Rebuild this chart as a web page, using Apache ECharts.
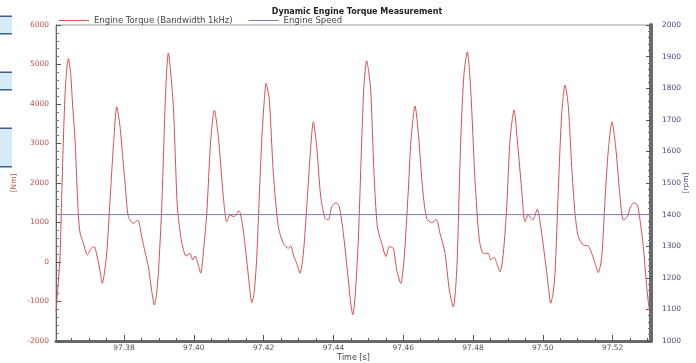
<!DOCTYPE html>
<html>
<head>
<meta charset="utf-8">
<script src="https://cdn.jsdelivr.net/npm/echarts@6/dist/echarts.min.js"></script>
<style>
  html, body { margin: 0; padding: 0; background: #fff; }
  #chart { width: 696px; height: 363px; }
</style>
</head>
<body>
<div id="chart"></div>
<script>
// time stamps [s]
const timeSec = [
  97.36052, 97.36109, 97.36166, 97.36209, 97.36261, 97.36324, 97.36404, 97.36467, 97.36524, 97.36596,
  97.36653, 97.36691, 97.36739, 97.36834, 97.36948, 97.37046, 97.37149, 97.37218, 97.37298, 97.37378,
  97.37441, 97.37504, 97.37599, 97.37699, 97.37791, 97.37885, 97.37957, 97.38029, 97.38123, 97.38266,
  97.38393, 97.38507, 97.38602, 97.38696, 97.38788, 97.38868, 97.38926, 97.38983, 97.39080, 97.39175,
  97.39226, 97.39269, 97.39332, 97.39413, 97.39476, 97.39527, 97.39625, 97.39691, 97.39777, 97.39891,
  97.39968, 97.40034, 97.40120, 97.40198, 97.40278, 97.40370, 97.40484, 97.40587, 97.40702, 97.40845,
  97.40943, 97.41037, 97.41152, 97.41295, 97.41401, 97.41496, 97.41582, 97.41659, 97.41725, 97.41802,
  97.41868, 97.41946, 97.42011, 97.42069, 97.42163, 97.42278, 97.42421, 97.42564, 97.42708, 97.42776,
  97.42851, 97.42948, 97.43043, 97.43138, 97.43235, 97.43330, 97.43424, 97.43521, 97.43636, 97.43759,
  97.43854, 97.43951, 97.44074, 97.44169, 97.44284, 97.44427, 97.44490, 97.44553, 97.44619, 97.44713,
  97.44811, 97.44877, 97.44954, 97.45006, 97.45069, 97.45163, 97.45258, 97.45384, 97.45507, 97.45602,
  97.45716, 97.45814, 97.45928, 97.46023, 97.46146, 97.46223, 97.46338, 97.46433, 97.46559, 97.46673,
  97.46817, 97.46940, 97.47054, 97.47198, 97.47321, 97.47436, 97.47499, 97.47550, 97.47648, 97.47742,
  97.47837, 97.47934, 97.48057, 97.48181, 97.48295, 97.48438, 97.48507, 97.48602, 97.48679, 97.48774,
  97.48868, 97.48966, 97.49060, 97.49175, 97.49269, 97.49395, 97.49490, 97.49585, 97.49711, 97.49842,
  97.49940, 97.50092, 97.50163, 97.50226, 97.50292, 97.50350, 97.50444, 97.50542, 97.50636, 97.50731,
  97.50828, 97.50923, 97.51017, 97.51160, 97.51304, 97.51401, 97.51496, 97.51590, 97.51688, 97.51782,
  97.51877, 97.51983, 97.52097, 97.52212, 97.52307, 97.52421, 97.52519, 97.52613, 97.52708, 97.52785,
  97.52880, 97.52977, 97.53043, 97.53100
];

// engine torque [Nm]
const torqueNm = [
  -1250, -600, 150, 1500, 3087, 4500, 5150, 4800, 4000, 3087,
  1900, 1190, 734, 480, 177, 329, 387, 177, -150, -540,
  -250, 220, 1570, 3000, 3930, 3423, 2700, 2000, 1146, 979,
  1063, 640, 250, -119, -700, -1088, -850, -286, 1399, 3930,
  4900, 5295, 4850, 3930, 2500, 1399, 640, 350, 152, 220,
  51, 152, -50, -286, 300, 1232, 3087, 3846, 3170, 1652,
  1020, 1190, 1146, 1298, 893, 200, -500, -1030, -800, 100,
  1500, 3087, 4000, 4521, 4099, 2244, 893, 473, 346, 405,
  177, -34, -286, 220, 1399, 2664, 3550, 2917, 1652, 1105,
  1063, 1399, 1500, 1399, 726, -455, -1000, -1340, -900, 557,
  3087, 4500, 5093, 4850, 4352, 2244, 893, 473, 135, 388,
  346, -202, -540, 51, 1822, 3087, 3947, 3256, 1822, 1105,
  994, 1080, 726, 220, -708, -1140, -700, 135, 3087, 4774,
  5321, 4352, 2075, 557, 220, 220, 51, 118, -34, -245,
  220, 1399, 3087, 3846, 3087, 1822, 1020, 1190, 1063, 1333,
  893, -119, -650, -1045, -800, -286, 1822, 3762, 4478, 3930,
  2411, 1232, 640, 430, 405, 220, -34, -270, 135, 1569,
  2834, 3550, 2834, 1652, 1063, 1146, 1399, 1500, 1442, 1063,
  388, -625, -1150, -1350
];

// engine speed [rpm]
const speedTime = [97.3605, 97.531];
const speedRpm = [1400, 1400];

// axis ticks
const timeMajor = [97.38, 97.40, 97.42, 97.44, 97.46, 97.48, 97.50, 97.52];
const timeMinor = [
  97.365, 97.37, 97.375, 97.385, 97.39, 97.395, 97.405, 97.41, 97.415,
  97.425, 97.43, 97.435, 97.445, 97.45, 97.455, 97.465, 97.47, 97.475,
  97.485, 97.49, 97.495, 97.505, 97.51, 97.515, 97.525, 97.53
];

const FONT = 'DejaVu Sans';
const RED = '#d65050';
const BLUE = '#7a7ab4';
const chart = echarts.init(document.getElementById('chart'));

chart.setOption({
  animation: false,
  textStyle: { fontFamily: FONT },
  title: {
    text: 'Dynamic Engine Torque Measurement',
    left: 352, top: 3, textAlign: 'center',
    textStyle: { fontSize: 8, fontWeight: 'bold', color: '#222', fontFamily: FONT }
  },
  legend: {
    left: 54, top: 11, itemWidth: 30, itemHeight: 1, itemGap: 16,
    icon: 'rect',
    textStyle: { fontSize: 8.5, color: '#444', fontFamily: FONT },
    data: ['Engine Torque (Bandwidth 1kHz)', 'Engine Speed']
  },
  grid: {
    left: 56, right: 45, top: 25, bottom: 22,
    outerBoundsMode: 'none', containLabel: false,
    show: true, borderColor: '#9a9a9a', borderWidth: 1
  },
  graphic: [
    { type: 'rect', shape: { x: 0, y: 16, width: 12, height: 18 }, style: { fill: '#d8eaf6' } },
    { type: 'rect', shape: { x: 0, y: 15.5, width: 12, height: 1.5 }, style: { fill: '#3d5f8c' } },
    { type: 'rect', shape: { x: 0, y: 33, width: 12, height: 1.5 }, style: { fill: '#3d5f8c' } },
    { type: 'rect', shape: { x: 0, y: 72, width: 12, height: 18 }, style: { fill: '#d8eaf6' } },
    { type: 'rect', shape: { x: 0, y: 71.5, width: 12, height: 1.5 }, style: { fill: '#3d5f8c' } },
    { type: 'rect', shape: { x: 0, y: 89, width: 12, height: 1.5 }, style: { fill: '#3d5f8c' } },
    { type: 'rect', shape: { x: 0, y: 128, width: 12, height: 39 }, style: { fill: '#d8eaf6' } },
    { type: 'rect', shape: { x: 0, y: 127.5, width: 12, height: 1.5 }, style: { fill: '#3d5f8c' } },
    { type: 'rect', shape: { x: 0, y: 166, width: 12, height: 1.5 }, style: { fill: '#3d5f8c' } }
  ],
  xAxis: [
    {
      type: 'value', min: 97.3605, max: 97.531,
      name: 'Time [s]', nameLocation: 'middle', nameGap: 13, nameMoveOverlap: false,
      nameTextStyle: { fontSize: 8, color: '#444', fontFamily: FONT },
      axisLine: { onZero: false, lineStyle: { color: '#6a6a6a', width: 3 } },
      axisTick: { customValues: timeMajor, inside: true, length: 6, lineStyle: { color: '#555' } },
      axisLabel: { customValues: timeMajor, fontSize: 7.5, color: '#555', margin: 3,
        formatter: v => v.toFixed(2) },
      splitLine: { show: false }
    },
    {
      type: 'value', min: 97.3605, max: 97.531, position: 'bottom',
      axisLine: { show: false, onZero: false },
      axisTick: { customValues: timeMinor, inside: true, length: 3, lineStyle: { color: '#555' } },
      axisLabel: { show: false },
      splitLine: { show: false }
    }
  ],
  yAxis: [
    {
      type: 'value', min: -2000, max: 6000, interval: 1000, position: 'left',
      name: '[Nm]', nameLocation: 'middle', nameGap: 38, nameRotate: 90, nameMoveOverlap: false,
      nameTextStyle: { fontSize: 7.5, color: '#c8504f', fontFamily: FONT },
      axisLine: { show: true, onZero: false, lineStyle: { color: '#666', width: 1 } },
      axisTick: { show: true, inside: true, length: 5, lineStyle: { color: '#555' } },
      minorTick: { show: true, splitNumber: 5, length: 3, lineStyle: { color: '#777' } },
      axisLabel: { fontSize: 7.5, color: '#c8504f', margin: 7, formatter: v => String(v) },
      splitLine: { show: false }
    },
    {
      type: 'value', min: 1000, max: 2000, interval: 100, position: 'right',
      name: '[rpm]', nameLocation: 'middle', nameGap: 31, nameRotate: 90, nameMoveOverlap: false,
      nameTextStyle: { fontSize: 7.5, color: '#4a4a8a', fontFamily: FONT },
      axisLine: { show: true, onZero: false, lineStyle: { color: '#6a6a6a', width: 4 } },
      axisTick: { show: true, inside: true, length: 5, lineStyle: { color: '#555' } },
      minorTick: { show: true, splitNumber: 5, length: 3, lineStyle: { color: '#777' } },
      axisLabel: { fontSize: 7.5, color: '#4a4a8a', margin: 11, formatter: v => String(v) },
      splitLine: { show: false }
    }
  ],
  series: [
    {
      name: 'Engine Torque (Bandwidth 1kHz)',
      type: 'line', xAxisIndex: 0, yAxisIndex: 0,
      symbol: 'none', smooth: 0.25,
      lineStyle: { color: RED, width: 1 },
      itemStyle: { color: RED },
      data: timeSec.map((t, i) => [t, torqueNm[i]])
    },
    {
      name: 'Engine Speed',
      type: 'line', xAxisIndex: 0, yAxisIndex: 1,
      symbol: 'none',
      lineStyle: { color: BLUE, width: 1 },
      itemStyle: { color: BLUE },
      data: speedTime.map((t, i) => [t, speedRpm[i]])
    }
  ]
});
</script>
</body>
</html>
